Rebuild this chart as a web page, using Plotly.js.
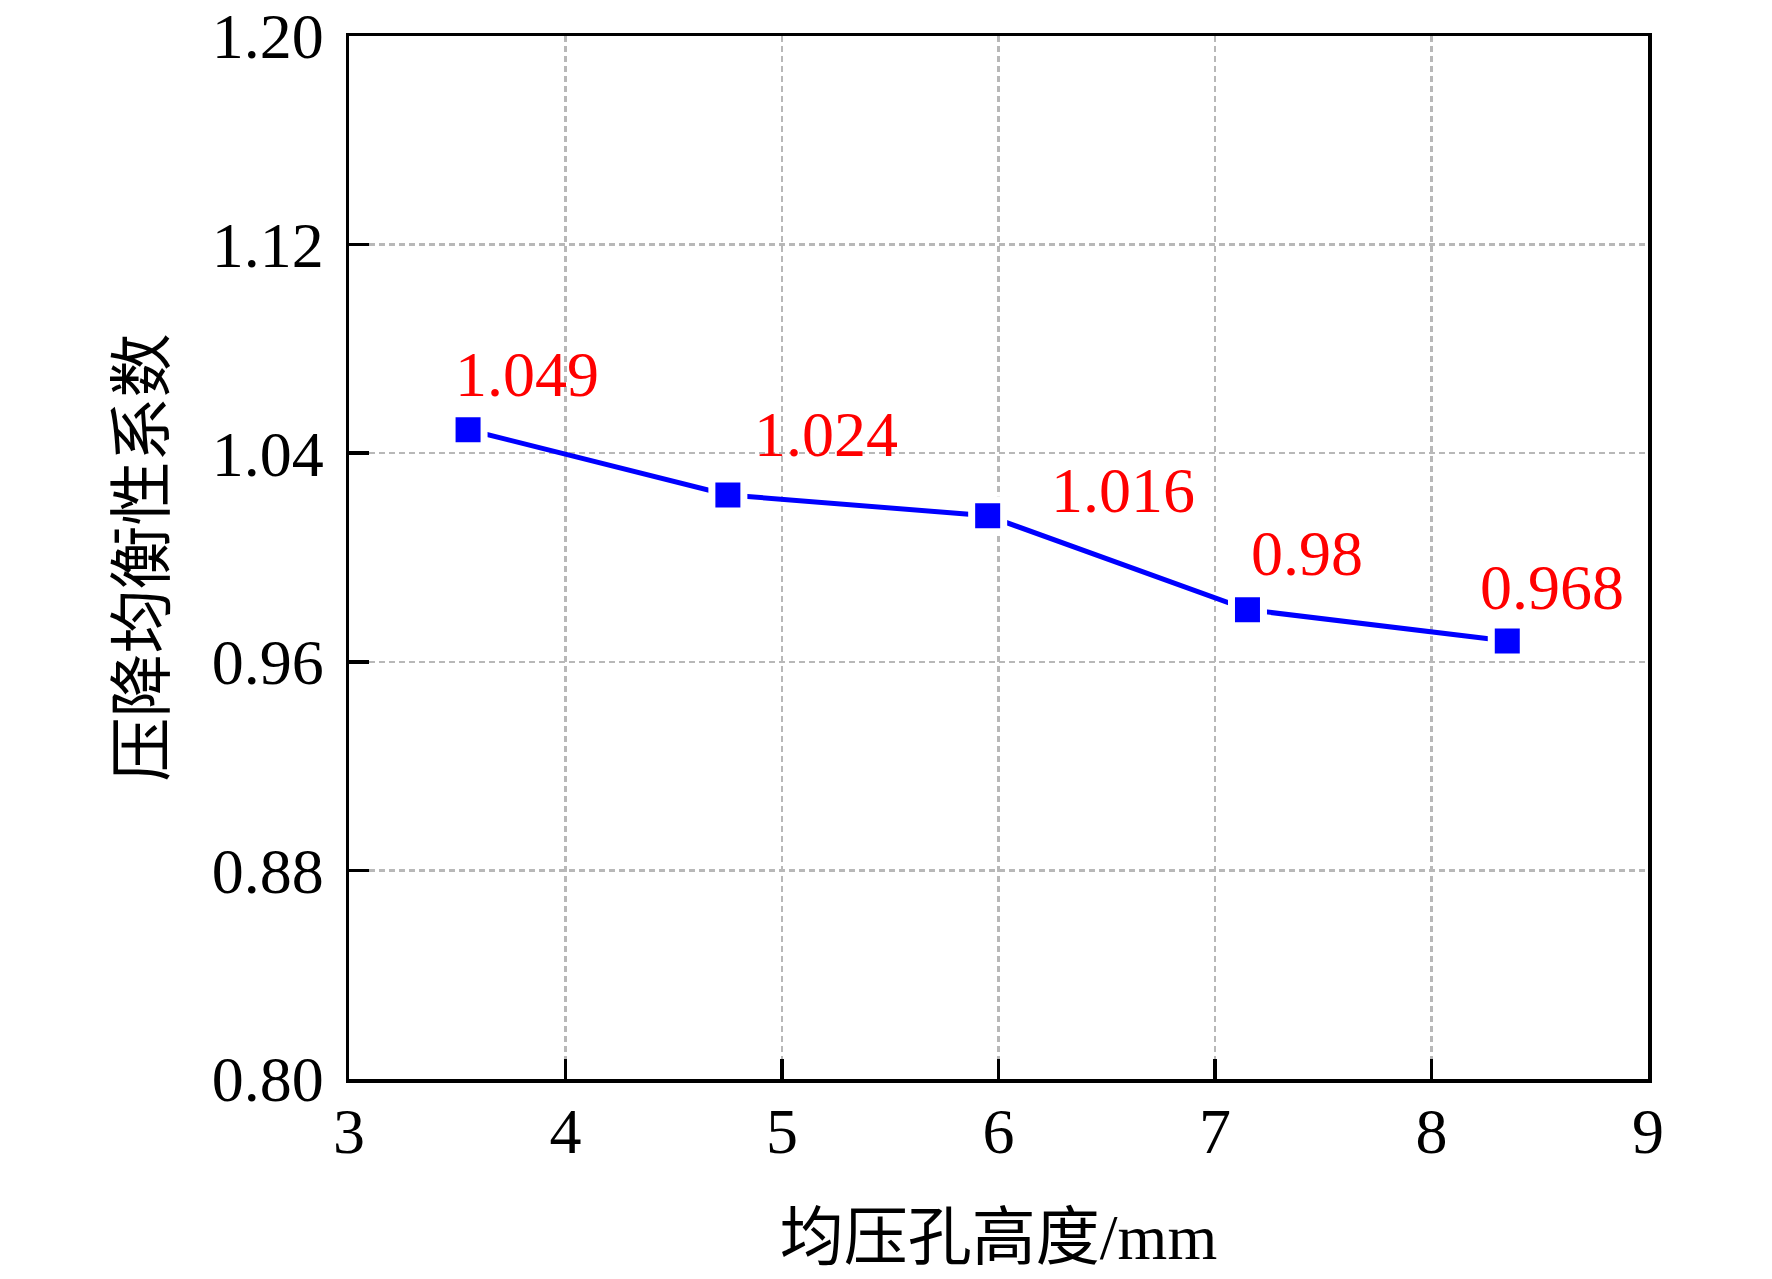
<!DOCTYPE html>
<html>
<head>
<meta charset="utf-8">
<script src="https://cdn.plot.ly/plotly-3.0.1.min.js"></script>
<style>html,body{margin:0;padding:0;background:#fff;}#chart{width:1772px;height:1279px;}</style>
</head>
<body>
<div id="chart"></div>
<script>
// Data
const holeHeight = [3.55, 4.75, 5.95, 7.15, 8.35];
const coefficient = [1.049, 1.024, 1.016, 0.98, 0.968];
const valueLabels = ['1.049', '1.024', '1.016', '0.98', '0.968'];
const xTickVals = [3, 4, 5, 6, 7, 8, 9];
const yTickVals = [0.80, 0.88, 0.96, 1.04, 1.12, 1.20];
const xTitle = '均压孔高度/mm';
const yTitle = '压降均衡性系数';

// label placement (pixel offsets, styling only)
const labelDx = [-15, 24, 61, 2, -29];
const labelDy = [55, 60, 25, 56, 53];

const FONT = 'Liberation Serif, Times New Roman, Noto Sans CJK SC, serif';

const trace = {
  x: holeHeight,
  y: coefficient,
  type: 'scatter',
  mode: 'lines+markers',
  line: {color: '#0000ff', width: 5},
  marker: {symbol: 'square', size: 32, color: '#0000ff', line: {color: '#ffffff', width: 7}},
  hoverinfo: 'none'
};

const annotations = holeHeight.map((xv, i) => ({
  x: xv, y: coefficient[i], xref: 'x', yref: 'y',
  text: valueLabels[i], showarrow: false,
  xanchor: 'left', yanchor: 'middle',
  xshift: labelDx[i], yshift: labelDy[i],
  font: {family: FONT, size: 64, color: '#ff0000'}
}));

const layout = {
  width: 1772, height: 1279,
  margin: {l: 349, r: 124, t: 36, b: 200, pad: 0},
  paper_bgcolor: '#ffffff', plot_bgcolor: '#ffffff',
  showlegend: false,
  font: {family: FONT, color: '#000000'},
  xaxis: {
    range: [3, 9], tickvals: xTickVals, ticktext: xTickVals.map(String),
    ticks: 'inside', ticklen: 20, tickwidth: 3.5, tickcolor: '#000',
    showline: true, linecolor: '#000', linewidth: 3.5, mirror: true,
    showgrid: true, gridcolor: '#b8b8b8', gridwidth: 2.5, griddash: '6px,4px',
    zeroline: false,
    tickfont: {family: FONT, size: 64, color: '#000'},
    ticklabelstandoff: -6, ticklabeloverflow: 'allow',
    title: {text: xTitle, font: {family: FONT, size: 64, color: '#000'}, standoff: 49}
  },
  yaxis: {
    range: [0.80, 1.20], tickvals: yTickVals, ticktext: yTickVals.map(v => v.toFixed(2)),
    ticks: 'inside', ticklen: 20, tickwidth: 3.5, tickcolor: '#000',
    showline: true, linecolor: '#000', linewidth: 3.5, mirror: true,
    showgrid: true, gridcolor: '#b8b8b8', gridwidth: 2.5, griddash: '6px,4px',
    zeroline: false,
    tickfont: {family: FONT, size: 64, color: '#000'},
    ticklabelstandoff: 9, ticklabeloverflow: 'allow',
    title: {text: yTitle, font: {family: FONT, size: 64, color: '#000'}, standoff: 27}
  },
  annotations: annotations
};

Plotly.newPlot('chart', [trace], layout, {staticPlot: true, displayModeBar: false});
</script>
</body>
</html>
